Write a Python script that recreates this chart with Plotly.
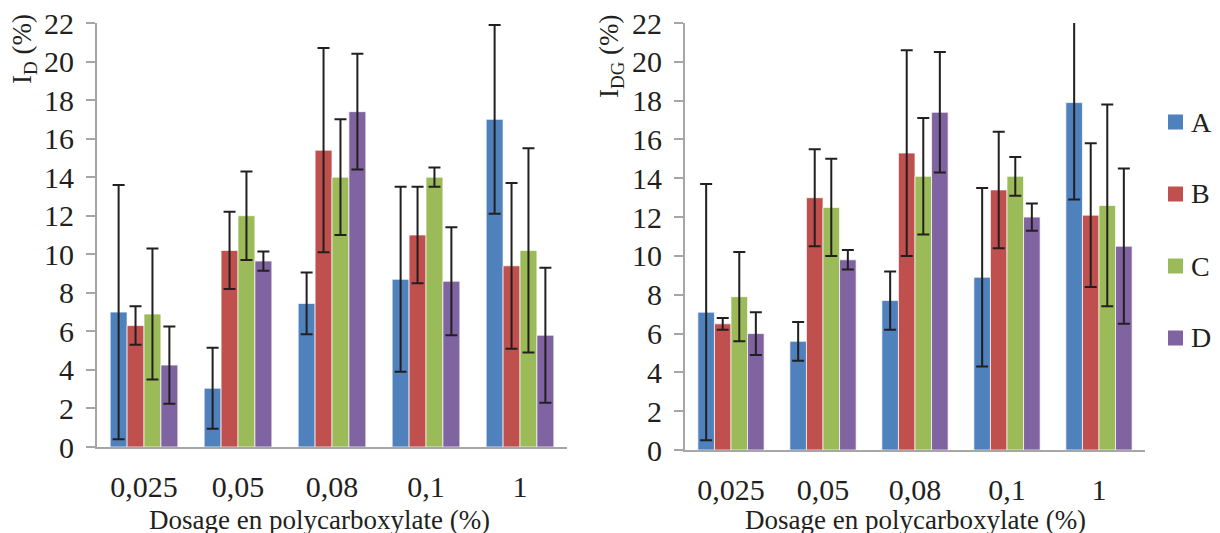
import plotly.graph_objects as go

categories = ["0,025", "0,05", "0,08", "0,1", "1"]
series = ["A", "B", "C", "D"]
colors = ["#4F81BD", "#C0504D", "#9BBB59", "#8064A2"]

# Left panel: I_D (%)
id_A = [7.0, 3.05, 7.45, 8.7, 17.0]
id_B = [6.3, 10.2, 15.4, 11.0, 9.4]
id_C = [6.9, 12.0, 14.0, 14.0, 10.2]
id_D = [4.25, 9.65, 17.4, 8.6, 5.8]
id_err_A = [6.6, 2.1, 1.6, 4.8, 4.9]
id_err_B = [1.0, 2.0, 5.3, 2.5, 4.3]
id_err_C = [3.4, 2.3, 3.0, 0.5, 5.3]
id_err_D = [2.0, 0.5, 3.0, 2.8, 3.5]

# Right panel: I_DG (%)
idg_A = [7.1, 5.6, 7.7, 8.9, 17.9]
idg_B = [6.5, 13.0, 15.3, 13.4, 12.1]
idg_C = [7.9, 12.5, 14.1, 14.1, 12.6]
idg_D = [6.0, 9.8, 17.4, 12.0, 10.5]
idg_err_A = [6.6, 1.0, 1.5, 4.6, 5.0]
idg_err_B = [0.3, 2.5, 5.3, 3.0, 3.7]
idg_err_C = [2.3, 2.5, 3.0, 1.0, 5.2]
idg_err_D = [1.1, 0.5, 3.1, 0.7, 4.0]

yticks = list(range(0, 23, 2))

left_vals = [id_A, id_B, id_C, id_D]
left_errs = [id_err_A, id_err_B, id_err_C, id_err_D]
right_vals = [idg_A, idg_B, idg_C, idg_D]
right_errs = [idg_err_A, idg_err_B, idg_err_C, idg_err_D]

FONT = "Liberation Serif, Times New Roman, serif"
TXT = "#231f20"
AXC = "#a6a6a6"

fig = go.Figure()
for i, s in enumerate(series):
    for vals, errs, xa, ya in [
        (left_vals, left_errs, "x", "y"),
        (right_vals, right_errs, "x2", "y2"),
    ]:
        fig.add_trace(go.Bar(
            x=categories, y=vals[i], name=s,
            marker=dict(color=colors[i], line=dict(color="rgba(255,255,255,0.7)", width=1)),
            error_y=dict(type="data", array=errs[i], visible=True,
                         color="#231f20", thickness=2, width=6),
            xaxis=xa, yaxis=ya, showlegend=False,
        ))

H = 533.0
W = 1220.0
OFF = 8  # page body margin offset


def px(x):
    return (x - OFF) / W


def py(y):
    return (H - (y - OFF)) / H


axis_common = dict(showline=True, linecolor=AXC, linewidth=2, showgrid=False, zeroline=False,
                   automargin=False, ticklabeloverflow="allow",
                   tickfont=dict(family=FONT, size=30, color=TXT))

annotations = [
    dict(text="I<sub>D</sub> (%)", x=px(24), y=py(12),
         textangle=-90, xanchor="center", yanchor="top",
         font=dict(family=FONT, size=27, color=TXT)),
    dict(text="I<sub>DG</sub> (%)", x=px(611), y=py(12),
         textangle=-90, xanchor="center", yanchor="top",
         font=dict(family=FONT, size=27, color=TXT)),
    dict(text="Dosage en polycarboxylate (%)", x=px(319), y=py(520),
         xanchor="center", yanchor="middle", font=dict(family=FONT, size=27, color=TXT)),
    dict(text="Dosage en polycarboxylate (%)", x=px(915), y=py(520),
         xanchor="center", yanchor="middle", font=dict(family=FONT, size=27, color=TXT)),
]
shapes = []
legend_y = [122, 194, 266, 338]
for i, s in enumerate(series):
    yc = legend_y[i]
    shapes.append(dict(type="rect", xref="paper", yref="paper",
                       x0=px(1168), x1=px(1183), y0=py(yc + 7.5), y1=py(yc - 7.5),
                       fillcolor=colors[i], line=dict(width=0)))
    annotations.append(dict(text=s, x=px(1189), y=py(yc), xanchor="left", yanchor="middle",
                            font=dict(family=FONT, size=28, color=TXT)))
for a in annotations:
    a.update(xref="paper", yref="paper", showarrow=False)

fig.update_layout(
    width=1220, height=533,
    margin=dict(l=0, r=0, t=0, b=0),
    paper_bgcolor="white", plot_bgcolor="white",
    barmode="group", bargap=0.28, bargroupgap=0,
    showlegend=False,
    font=dict(family=FONT, color=TXT),
    xaxis=dict(domain=[px(97), px(567)], anchor="y", ticks="", ticklabelstandoff=12, **axis_common),
    yaxis=dict(domain=[py(447), py(23)], anchor="x", range=[0, 22],
               tickvals=yticks, ticks="outside", ticklen=9, tickcolor=AXC, tickwidth=2,
               ticklabelstandoff=6, **axis_common),
    xaxis2=dict(domain=[px(685), px(1145)], anchor="y2", ticks="", ticklabelstandoff=12, **axis_common),
    yaxis2=dict(domain=[py(450), py(23)], anchor="x2", range=[0, 22],
                tickvals=yticks, ticks="outside", ticklen=9, tickcolor=AXC, tickwidth=2,
                ticklabelstandoff=6, **axis_common),
    shapes=shapes,
    annotations=annotations,
)

fig.write_html("out.html")
